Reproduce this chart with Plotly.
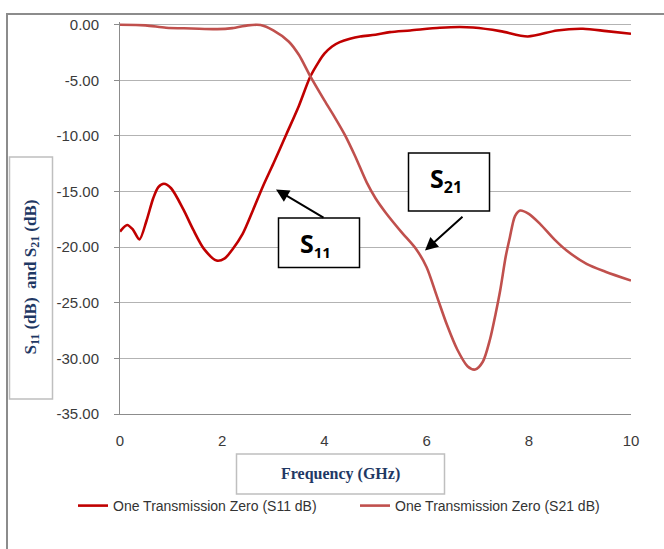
import plotly.graph_objects as go

# ---------------- data ----------------
s11_freq = [0.00, 0.14, 0.25, 0.38, 0.52, 0.65, 0.75, 0.86, 1.00, 1.24, 1.43, 1.65, 1.89, 2.05,
            2.20, 2.40, 2.60, 2.80, 3.00, 3.26, 3.50, 3.72, 3.88, 4.00, 4.15, 4.30, 4.50, 4.70,
            5.00, 5.28, 5.68, 6.26, 6.65, 6.91, 7.44, 7.98, 8.55, 9.06, 9.52, 10.00]
s11_db = [-18.6, -18.0, -18.4, -19.3, -17.6, -15.6, -14.6, -14.3, -14.7, -16.6, -18.4, -20.2, -21.2, -21.0,
          -20.2, -18.8, -16.7, -14.5, -12.5, -9.8, -7.3, -4.7, -3.4, -2.6, -1.95, -1.56, -1.25, -1.05,
          -0.9, -0.66, -0.51, -0.27, -0.2, -0.25, -0.57, -1.05, -0.51, -0.36, -0.57, -0.81]

s21_freq = [0.00, 0.50, 0.90, 1.40, 1.90, 2.20, 2.50, 2.75, 3.00, 3.30, 3.50, 3.72, 4.00, 4.20,
            4.40, 4.60, 4.83, 5.00, 5.20, 5.50, 5.80, 6.00, 6.20, 6.40, 6.60, 6.80, 6.95, 7.10,
            7.24, 7.35, 7.44, 7.55, 7.63, 7.73, 7.83, 8.00, 8.22, 8.50, 8.74, 9.13, 9.50, 10.00]
s21_db = [0.0, -0.05, -0.27, -0.33, -0.39, -0.3, -0.05, -0.02, -0.5, -1.5, -2.7, -4.6, -6.8, -8.3,
          -9.9, -11.8, -14.2, -15.6, -16.9, -18.6, -20.2, -21.8, -24.4, -27.0, -29.2, -30.7, -31.0, -30.3,
          -28.3, -26.0, -23.9, -20.8, -19.1, -17.2, -16.7, -17.0, -17.9, -19.3, -20.3, -21.5, -22.2, -23.0]

x_tick_vals = [0, 2, 4, 6, 8, 10]
x_tick_labels = ["0", "2", "4", "6", "8", "10"]
y_tick_vals = [0, -5, -10, -15, -20, -25, -30, -35]
y_tick_labels = ["0.00", "-5.00", "-10.00", "-15.00", "-20.00", "-25.00", "-30.00", "-35.00"]

s11_name = "One Transmission Zero (S11 dB)"
s21_name = "One Transmission Zero (S21 dB)"

# ---------------- layout helpers ----------------
W, H = 664, 549
ML, MR, MT, MB = 120, 33, 22, 135
PW = W - ML - MR
PH = H - MT - MB


def px(x):
    return (x - ML) / PW


def py(y):
    return (H - MB - y) / PH


navy = "#1F3864"
tick_font = dict(family="Liberation Sans, Arial, sans-serif", size=15, color="#3a3a3a")
leg_font = dict(family="Liberation Sans, Arial, sans-serif", size=14, color="#333333")

fig = go.Figure()
fig.add_trace(go.Scatter(x=s11_freq, y=s11_db, mode="lines", name=s11_name, legend="legend",
                         line=dict(color="#C00000", width=2.6, shape="spline", smoothing=0.8)))
fig.add_trace(go.Scatter(x=s21_freq, y=s21_db, mode="lines", name=s21_name, legend="legend2",
                         line=dict(color="#C0504D", width=2.6, shape="spline", smoothing=0.8)))

shapes = []
# outer chart frame (cut at right and bottom)
shapes.append(dict(type="path", xref="paper", yref="paper",
                   path=f"M {px(7)},{py(560)} L {px(7)},{py(14)} L {px(680)},{py(14)}",
                   line=dict(color="#8c8c8c", width=2)))
# axis title boxes
shapes.append(dict(type="rect", xref="paper", yref="paper",
                   x0=px(9.5), x1=px(52.5), y0=py(157), y1=py(399),
                   line=dict(color="#bfbfbf", width=1.5), fillcolor="white"))
shapes.append(dict(type="rect", xref="paper", yref="paper",
                   x0=px(236.5), x1=px(444.5), y0=py(454), y1=py(494),
                   line=dict(color="#bfbfbf", width=1.5), fillcolor="white"))
# callout boxes
shapes.append(dict(type="rect", xref="paper", yref="paper", layer="above",
                   x0=px(278.5), x1=px(359.5), y0=py(218), y1=py(267.5),
                   line=dict(color="black", width=1.5), fillcolor="white"))
shapes.append(dict(type="rect", xref="paper", yref="paper", layer="above",
                   x0=px(408.5), x1=px(489.5), y0=py(153), y1=py(211),
                   line=dict(color="black", width=1.5), fillcolor="white"))

annotations = []
annotations.append(dict(xref="paper", yref="paper", x=px(31.5), y=py(277), textangle=-90,
                        xanchor="center", yanchor="middle",
                        text="<b>S<sub>11</sub> (dB)  and S<sub>21</sub> (dB)</b>", showarrow=False,
                        font=dict(family="Liberation Serif, Times New Roman, serif", size=17, color=navy)))
annotations.append(dict(xref="paper", yref="paper", x=px(340), y=py(474),
                        xanchor="center", yanchor="middle",
                        text="<b>Frequency (GHz)</b>", showarrow=False,
                        font=dict(family="Liberation Serif, Times New Roman, serif", size=16, color=navy)))
# callout texts
call_font = dict(family="Open Sans, Liberation Sans, sans-serif", size=25, color="black")
annotations.append(dict(xref="paper", yref="paper", x=px(315), y=py(244.5),
                        xanchor="center", yanchor="middle",
                        text="<b>S<sub><span style='font-size:15px'>11</span></sub></b>",
                        showarrow=False, font=call_font))
annotations.append(dict(xref="paper", yref="paper", x=px(446), y=py(180),
                        xanchor="center", yanchor="middle",
                        text="<b>S<sub><span style='font-size:16px'>21</span></sub></b>",
                        showarrow=False, font=call_font))
# arrows
annotations.append(dict(xref="paper", yref="paper", x=px(276), y=py(189.5), ax=49, ay=29,
                        text="", showarrow=True, arrowhead=2, arrowsize=1.3, arrowwidth=2,
                        arrowcolor="black", standoff=0, startstandoff=0))
annotations.append(dict(xref="paper", yref="paper", x=px(425), y=py(250.5), ax=39, ay=-35,
                        text="", showarrow=True, arrowhead=2, arrowsize=1.3, arrowwidth=2,
                        arrowcolor="black", standoff=0, startstandoff=0))

fig.update_layout(
    width=W, height=H,
    margin=dict(l=ML, r=MR, t=MT, b=MB, pad=0),
    paper_bgcolor="white", plot_bgcolor="white",
    shapes=shapes, annotations=annotations,
    showlegend=True,
    legend=dict(x=px(73), y=py(506), xanchor="left", yanchor="middle",
                font=leg_font, bgcolor="rgba(0,0,0,0)", borderwidth=0),
    legend2=dict(x=px(355), y=py(506), xanchor="left", yanchor="middle",
                 font=leg_font, bgcolor="rgba(0,0,0,0)", borderwidth=0),
    xaxis=dict(range=[0, 10], tickvals=x_tick_vals, ticktext=x_tick_labels,
               showgrid=False, zeroline=False, showline=True, linecolor="#8c8c8c", linewidth=1,
               ticks="", tickfont=tick_font, ticklabelstandoff=13),
    yaxis=dict(range=[-35, 0.25], tickvals=y_tick_vals, ticktext=y_tick_labels,
               showgrid=True, gridcolor="#b3b3b3", gridwidth=1, zeroline=False,
               showline=True, linecolor="#8c8c8c", linewidth=1,
               ticks="outside", ticklen=5, tickcolor="#8c8c8c", tickfont=tick_font,
               ticklabelstandoff=12),
)

fig.write_html("out.html", config={"displayModeBar": False},
               post_script="document.body.style.margin='0px';")
